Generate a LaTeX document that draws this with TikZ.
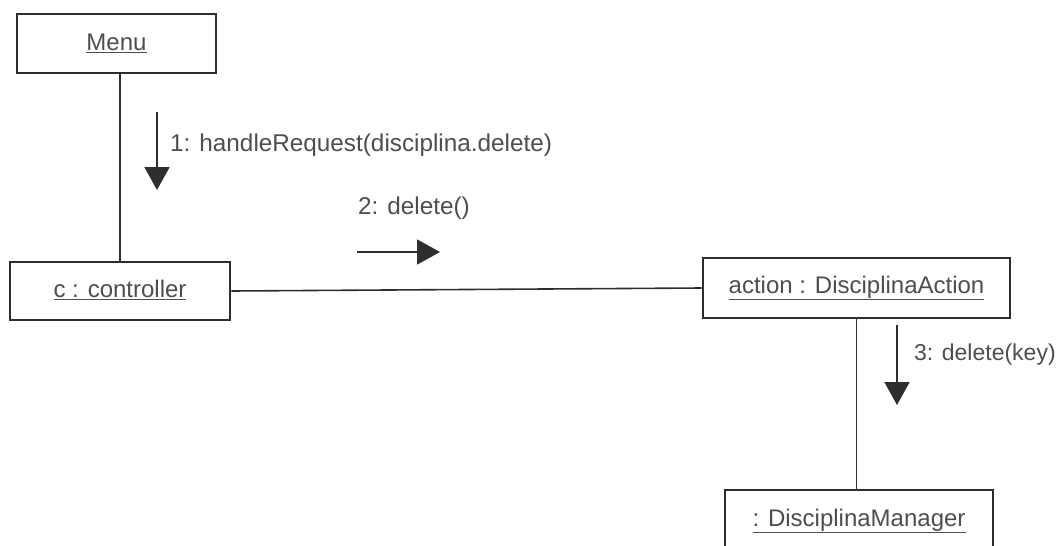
\documentclass[tikz,border=0pt]{standalone}
\usepackage{fontspec}
\setmainfont{Liberation Sans}
\usetikzlibrary{arrows.meta}
\definecolor{txtgray}{HTML}{4E4E4E}
\definecolor{linegray}{HTML}{2E2E2E}
\tikzset{
  obj/.style={draw=linegray, line width=2.8pt, fill=white, rectangle, inner sep=0pt,
    font=\fontsize{24}{28}\selectfont, text=txtgray},
  link/.style={draw=linegray, line width=1.6pt},
  msg/.style={draw=linegray, line width=1.8pt, -{Triangle[width=25pt,length=23pt]}},
  lbl/.style={font=\fontsize{24.3}{28}\selectfont, text=txtgray, anchor=west, inner sep=0pt}
}
\begin{document}
\begin{tikzpicture}[x=1pt,y=-1pt]
\useasboundingbox (0,0) rectangle (1060,546);
\clip (0,0) rectangle (1060,546);
\fill[white] (0,0) rectangle (1060,546);
% objects
\node[obj, minimum width=199pt, minimum height=59pt] (menu) at (116.5,43.5) {\raisebox{3pt}{\underline{Menu}}};
\node[obj, minimum width=220pt, minimum height=58pt] (ctrl) at (120,291) {\raisebox{5pt}{\underline{c : controller}}};
\node[obj, minimum width=307pt, minimum height=60pt] (action) at (856.5,288) {\raisebox{4pt}{\underline{action : DisciplinaAction}}};
\node[obj, minimum width=268pt, minimum height=62pt] (mgr) at (859,521) {\raisebox{6pt}{\underline{: DisciplinaManager}}};
% links
\draw[link] (ctrl.north) -- (ctrl.north |- menu.south);
\draw[link] (ctrl.east) -- (action.west);
\draw[link] (action.south) -- (action.south |- mgr.north);
% messages
\coordinate (m1s) at (157,112);
\coordinate (m1e) at (157,190);
\coordinate (m2s) at (357,252);
\coordinate (m2e) at (440,252);
\coordinate (m3s) at (897,325);
\coordinate (m3e) at (897,405);
\draw[msg] (m1s) -- (m1e);
\draw[msg] (m2s) -- (m2e);
\draw[msg] (m3s) -- (m3e);
\node[lbl] (l1) at (170,145) {1: handleRequest(disciplina.delete)};
\node[lbl] (l2) at (358,208) {2: delete()};
\node[lbl, font=\fontsize{23}{27}\selectfont] (l3) at (914,355) {3: delete(key)};
\end{tikzpicture}
\end{document}
